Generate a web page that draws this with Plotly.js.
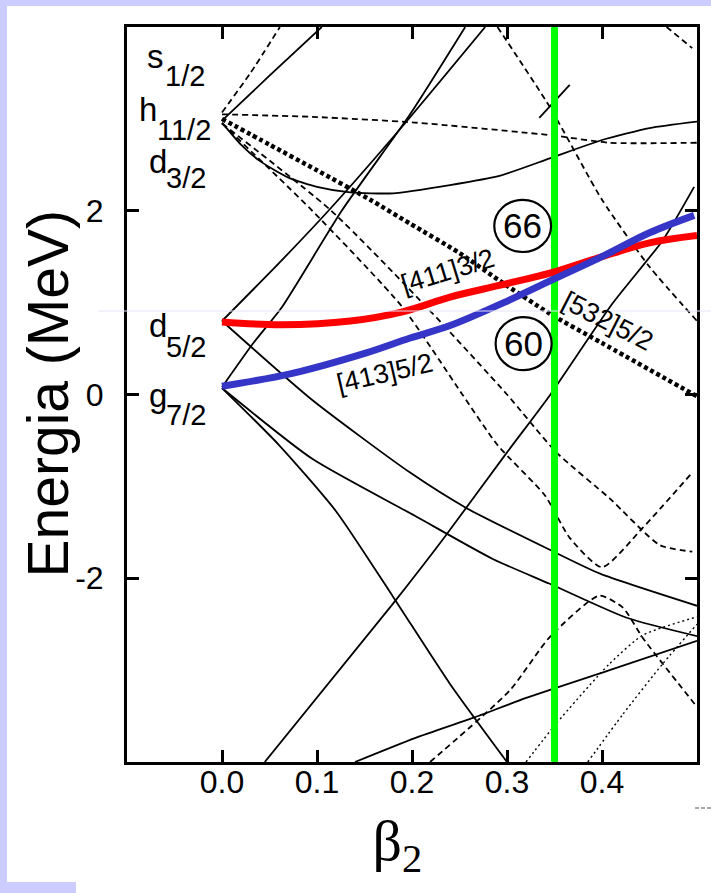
<!DOCTYPE html>
<html><head><meta charset="utf-8">
<script src="https://cdn.plot.ly/plotly-3.0.1.min.js"></script>
<style>
html,body{margin:0;padding:0;background:#ccccff;width:711px;height:893px;overflow:hidden}
#plot{position:absolute;left:7px;top:6px;width:704px;height:887px;background:#fff}
#blk{position:absolute;left:0;top:882px;width:76px;height:11px;background:#ccccff}
</style></head>
<body><div id="plot"></div><div id="blk"></div>
<script>
// ---- data (beta2, energy MeV) ----
const xTickVals = [0, 0.1, 0.2, 0.3, 0.4];
const xTickText = ['0.0', '0.1', '0.2', '0.3', '0.4'];
const yTickVals = [-2, 0, 2];
const yTickText = ['-2', '0', '2'];

const red411X = [0, 0.063, 0.135, 0.19, 0.24, 0.293, 0.348, 0.397, 0.45, 0.5];
const red411Y = [0.79, 0.76, 0.80, 0.90, 1.06, 1.19, 1.33, 1.49, 1.65, 1.73];
const blue413X = [0, 0.074, 0.151, 0.198, 0.24, 0.303, 0.348, 0.4, 0.45, 0.497];
const blue413Y = [0.09, 0.23, 0.45, 0.615, 0.75, 1.03, 1.25, 1.5, 1.76, 1.95];
const greenX = [0.35, 0.35];
const greenY = [-4, 4];

// solid (positive parity)
const sA_X = [0, 0.06, 0.112, 0.19, 0.277];
const sA_Y = [0.80, 1.43, 2.0, 2.92, 4.0];
const sB_X = [0, 0.033, 0.063, 0.126, 0.198, 0.256];
const sB_Y = [0.08, 0.56, 0.95, 2.0, 3.05, 4.0];
const sC_X = [0, 0.05, 0.105];
const sC_Y = [2.98, 3.47, 4.0];
const sD_X = [0, 0.02, 0.04, 0.07, 0.1, 0.135, 0.18, 0.24, 0.292, 0.345, 0.4, 0.45, 0.5];
const sD_Y = [2.96, 2.72, 2.54, 2.36, 2.26, 2.2, 2.19, 2.28, 2.38, 2.57, 2.77, 2.9, 2.97];
const sE_X = [0.334, 0.366];
const sE_Y = [3.01, 3.37];
const sG_X = [0.045, 0.179, 0.233, 0.3, 0.345, 0.411, 0.464, 0.497];
const sG_Y = [-4.0, -2.29, -1.57, -0.63, -0.01, 0.99, 1.68, 2.26];
const sH1_X = [0, 0.095, 0.203, 0.285, 0.345, 0.426, 0.5];
const sH1_Y = [0.07, -0.7, -1.32, -1.79, -2.06, -2.43, -2.63];
const sH2_X = [0, 0.06, 0.12, 0.18, 0.24, 0.3];
const sH2_Y = [0.07, -0.55, -1.27, -2.2, -3.15, -4.0];
const sH3_X = [0, 0.095, 0.198, 0.258, 0.345, 0.398, 0.5];
const sH3_Y = [0.8, -0.06, -0.85, -1.24, -1.69, -1.95, -2.3];
const sI_X = [0.14, 0.203, 0.264, 0.321, 0.408, 0.5];
const sI_Y = [-4.0, -3.74, -3.52, -3.3, -3.0, -2.68];

// dashed (negative parity)
const dA_X = [0, 0.03, 0.061];
const dA_Y = [3.07, 3.5, 4.0];
const dB_X = [0, 0.1, 0.203, 0.348, 0.408, 0.5];
const dB_Y = [3.05, 3.02, 2.96, 2.82, 2.74, 2.74];
const dD1_X = [0, 0.095, 0.19, 0.253, 0.29, 0.34, 0.366, 0.4, 0.443, 0.495];
const dD1_Y = [2.95, 2.0, 0.95, 0.0, -0.55, -1.1, -1.56, -1.88, -1.45, -0.85];
const dD2_X = [0, 0.115, 0.22, 0.3, 0.352, 0.408, 0.461, 0.495];
const dD2_Y = [2.95, 2.0, 0.9, 0.0, -0.63, -1.13, -1.64, -1.71];
const dE_X = [0.29, 0.345, 0.4, 0.45, 0.5];
const dE_Y = [4.0, 3.13, 2.12, 1.39, 0.8];
const dF_X = [0.468, 0.495];
const dF_Y = [4.0, 3.77];
const dJ_X = [0.219, 0.303, 0.345, 0.397, 0.422, 0.443, 0.5];
const dJ_Y = [-4.0, -3.22, -2.64, -2.19, -2.32, -2.65, -3.4];
// thick dotted [532]5/2
const t532X = [0, 0.05, 0.1, 0.156, 0.198, 0.25, 0.292, 0.345, 0.4, 0.5];
const t532Y = [3.0, 2.72, 2.44, 2.12, 1.86, 1.54, 1.24, 0.88, 0.56, -0.02];
// thin dotted
const k1X = [0.32, 0.352, 0.408, 0.443, 0.5];
const k1Y = [-4.0, -3.58, -2.93, -2.62, -2.42];
const k2X = [0.385, 0.422, 0.464, 0.5];
const k2Y = [-4.0, -3.48, -2.93, -2.5];

const SOLID = {color: '#000', width: 1.8, shape: 'spline', smoothing: 0.6};
const DASH = {color: '#000', width: 1.8, dash: '6px,4px', shape: 'spline', smoothing: 0.6};
const DOTTHICK = {color: '#000', width: 4.5, dash: '4px,3px', shape: 'spline', smoothing: 0.6};
const DOTTHIN = {color: '#000', width: 1.4, dash: '2px,3px', shape: 'spline', smoothing: 0.6};

function tr(x, y, line) { return {x: x, y: y, mode: 'lines', line: line, hoverinfo: 'skip', showlegend: false, type: 'scatter'}; }

const traces = [
  tr(sA_X, sA_Y, SOLID), tr(sB_X, sB_Y, SOLID), tr(sC_X, sC_Y, SOLID), tr(sD_X, sD_Y, SOLID),
  tr(sE_X, sE_Y, SOLID), tr(sG_X, sG_Y, SOLID), tr(sH1_X, sH1_Y, SOLID), tr(sH2_X, sH2_Y, SOLID),
  tr(sH3_X, sH3_Y, SOLID), tr(sI_X, sI_Y, SOLID),
  tr(dA_X, dA_Y, DASH), tr(dB_X, dB_Y, DASH), tr(dD1_X, dD1_Y, DASH), tr(dD2_X, dD2_Y, DASH),
  tr(dE_X, dE_Y, DASH), tr(dF_X, dF_Y, DASH), tr(dJ_X, dJ_Y, DASH),
  tr(t532X, t532Y, DOTTHICK), tr(k1X, k1Y, DOTTHIN), tr(k2X, k2Y, DOTTHIN),
  tr(greenX, greenY, {color: '#00ff00', width: 7}),
  tr(red411X, red411Y, {color: '#ff0000', width: 7, shape: 'spline'}),
  tr(blue413X, blue413Y, {color: '#3535c8', width: 7, shape: 'spline'})
];

const LF = 'Liberation Sans, Arial, Helvetica, sans-serif';
function lab(t, x, y, size) { return {text: t, x: x, y: y, xref: 'x', yref: 'y', xanchor: 'left', yanchor: 'middle', showarrow: false, font: {family: LF, size: size, color: '#000'}}; }
function rot(t, x, y, ang) { return {text: t, x: x, y: y, xref: 'x', yref: 'y', xanchor: 'center', yanchor: 'middle', showarrow: false, textangle: ang, font: {family: LF, size: 27, color: '#000'}}; }

const annotations = [
  {text: 'Energia (MeV)', x: -0.1386, y: 0.5014, xref: 'paper', yref: 'paper', xanchor: 'center', yanchor: 'middle', textangle: -90, showarrow: false, font: {family: LF, size: 57, color: '#000'}},
  lab('s', -0.0806, 3.68, 33), lab('1/2', -0.0617, 3.464, 29),
  lab('h', -0.0897, 3.098, 33), lab('11/2', -0.0704, 2.882, 29),
  lab('d', -0.0792, 2.535, 33), lab('3/2', -0.0609, 2.355, 29),
  lab('d', -0.0792, 0.754, 33), lab('5/2', -0.0609, 0.52, 29),
  lab('g', -0.0792, -0.012, 33), lab('7/2', -0.0606, -0.225, 29),
  rot('[411]3/2', 0.238, 1.34, -17),
  rot('[413]5/2', 0.172, 0.23, -13),
  rot('[532]5/2', 0.406, 0.80, 27),
  {text: '66', x: 0.3165, y: 1.835, xref: 'x', yref: 'y', showarrow: false, font: {family: LF, size: 35, color: '#000'}},
  {text: '60', x: 0.3175, y: 0.555, xref: 'x', yref: 'y', showarrow: false, font: {family: LF, size: 35, color: '#000'}}
];

const shapes = [
  {type: 'circle', xref: 'x', yref: 'y', x0: 0.2866, x1: 0.3464, y0: 1.551, y1: 2.118, line: {color: '#000', width: 2.2}},
  {type: 'circle', xref: 'x', yref: 'y', x0: 0.288, x1: 0.347, y0: 0.265, y1: 0.842, line: {color: '#000', width: 2.2}},
  {type: 'line', xref: 'paper', yref: 'paper', x0: -0.05, x1: 1.03, y0: 0.6136, y1: 0.6136, line: {color: '#e4e4f8', width: 1}, layer: 'above'},
  {type: 'line', xref: 'paper', yref: 'paper', x0: 0.9965, x1: 1.028, y0: -0.0626, y1: -0.0626, line: {color: '#555', width: 1, dash: '4px,2px'}}
];

const layout = {
  width: 704, height: 887,
  margin: {l: 120, r: 14, t: 21, b: 131},
  paper_bgcolor: '#fff', plot_bgcolor: '#fff',
  showlegend: false,
  xaxis: {
    range: [-0.1, 0.5], tickvals: xTickVals, ticktext: xTickText,
    ticks: 'inside', ticklen: 12, tickwidth: 3, tickcolor: '#000',
    showline: true, linewidth: 3, linecolor: '#000', mirror: 'ticks',
    showgrid: false, zeroline: false,
    tickfont: {family: LF, size: 32, color: '#000'},
    ticklabelstandoff: -10,
    title: {text: 'β<sub>2</sub>&nbsp;&nbsp;', font: {family: 'Liberation Serif, Times New Roman, serif', size: 58, color: '#000'}, standoff: 20}
  },
  yaxis: {
    range: [-4, 4], tickvals: yTickVals, ticktext: yTickText,
    ticks: 'inside', ticklen: 12, tickwidth: 3, tickcolor: '#000',
    showline: true, linewidth: 3, linecolor: '#000', mirror: 'ticks',
    showgrid: false, zeroline: false,
    tickfont: {family: LF, size: 32, color: '#000'},
    ticklabelstandoff: 14
  },
  annotations: annotations,
  shapes: shapes
};

Plotly.newPlot('plot', traces, layout, {staticPlot: true, displayModeBar: false});
</script></body></html>
